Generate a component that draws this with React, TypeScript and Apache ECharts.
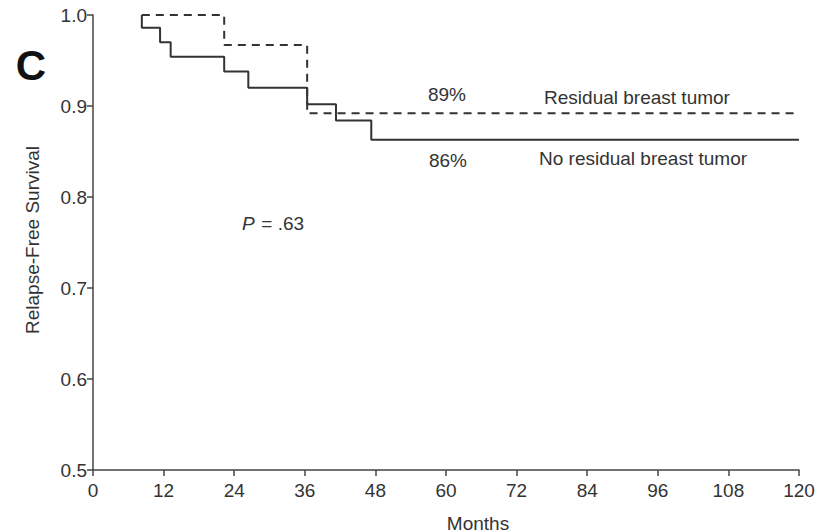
import React, { useEffect, useRef } from "react";
import * as echarts from "echarts";

const xTicks = [0, 12, 24, 36, 48, 60, 72, 84, 96, 108, 120];
const yTicks = [0.5, 0.6, 0.7, 0.8, 0.9, 1.0];

// No residual breast tumor (solid)
const noResidualMonths = [8.3, 8.3, 11.4, 13.2, 22.3, 26.4, 36.4, 41.3, 47.3, 120];
const noResidualSurvival = [1.0, 0.986, 0.970, 0.954, 0.938, 0.920, 0.902, 0.884, 0.863, 0.863];

// Residual breast tumor (dashed)
const residualMonths = [8.3, 22.3, 36.4, 120];
const residualSurvival = [1.0, 0.967, 0.892, 0.892];

const labels = {
  residualPct: "89%",
  noResidualPct: "86%",
  residual: "Residual breast tumor",
  noResidual: "No residual breast tumor",
  pValue: ".63",
  panel: "C",
  xName: "Months",
  yName: "Relapse-Free Survival",
};

const FONT = "'Liberation Sans', Arial, Helvetica, sans-serif";
const INK = "#333";

export default function App() {
  const ref = useRef<HTMLDivElement>(null);
  useEffect(() => {
    if (!ref.current) return;
    const chart = echarts.init(ref.current, null, { renderer: "svg" });
    const zip = (xs: number[], ys: number[]) => xs.map((x, i) => [x, ys[i]]);
    chart.setOption({
      animation: false,
      backgroundColor: "#fff",
      grid: { left: 93, right: 20, top: 15, bottom: 62, containLabel: false },
      xAxis: {
        type: "value",
        min: xTicks[0],
        max: xTicks[xTicks.length - 1],
        interval: 12,
        axisLine: { show: true, lineStyle: { color: "#444", width: 1.5 } },
        axisTick: { show: true, length: 6, lineStyle: { color: "#444", width: 1.5 } },
        axisLabel: { color: INK, fontSize: 19, fontFamily: FONT, margin: 11 },
        splitLine: { show: false },
      },
      yAxis: {
        type: "value",
        min: yTicks[0],
        max: yTicks[yTicks.length - 1],
        interval: 0.1,
        axisLine: { show: true, lineStyle: { color: "#444", width: 1.5 } },
        axisTick: { show: true, length: 6, lineStyle: { color: "#444", width: 1.5 } },
        axisLabel: {
          color: INK,
          fontSize: 19,
          fontFamily: FONT,
          margin: 6,
          formatter: (v: number) => v.toFixed(1),
        },
        splitLine: { show: false },
      },
      series: [
        {
          name: labels.noResidual,
          type: "line",
          step: "end",
          data: zip(noResidualMonths, noResidualSurvival),
          showSymbol: false,
          lineStyle: { color: INK, width: 2, type: "solid" },
        },
        {
          name: labels.residual,
          type: "line",
          step: "end",
          data: zip(residualMonths, residualSurvival),
          showSymbol: false,
          lineStyle: { color: INK, width: 2, type: [8, 6] },
        },
      ],
      graphic: [
        {
          type: "text",
          x: 31,
          y: 65,
          style: {
            text: labels.panel,
            font: `bold 42px ${FONT}`,
            fill: "#111",
            textAlign: "center",
            textVerticalAlign: "middle",
          },
        },
        {
          type: "text",
          x: 32,
          y: 240,
          rotation: Math.PI / 2,
          style: {
            text: labels.yName,
            font: `19px ${FONT}`,
            fill: INK,
            textAlign: "center",
            textVerticalAlign: "middle",
          },
        },
        {
          type: "text",
          x: 478,
          y: 523,
          style: {
            text: labels.xName,
            font: `19px ${FONT}`,
            fill: INK,
            textAlign: "center",
            textVerticalAlign: "middle",
          },
        },
        {
          type: "text",
          x: 447,
          y: 94,
          style: {
            text: labels.residualPct,
            font: `19px ${FONT}`,
            fill: INK,
            textAlign: "center",
            textVerticalAlign: "middle",
          },
        },
        {
          type: "text",
          x: 448,
          y: 160,
          style: {
            text: labels.noResidualPct,
            font: `19px ${FONT}`,
            fill: INK,
            textAlign: "center",
            textVerticalAlign: "middle",
          },
        },
        {
          type: "text",
          x: 637,
          y: 97,
          style: {
            text: labels.residual,
            font: `19px ${FONT}`,
            fill: INK,
            textAlign: "center",
            textVerticalAlign: "middle",
          },
        },
        {
          type: "text",
          x: 643,
          y: 158,
          style: {
            text: labels.noResidual,
            font: `19px ${FONT}`,
            fill: INK,
            textAlign: "center",
            textVerticalAlign: "middle",
          },
        },
        {
          type: "text",
          x: 242,
          y: 223,
          style: {
            text: "P",
            font: `italic 19px ${FONT}`,
            fill: INK,
            textAlign: "left",
            textVerticalAlign: "middle",
          },
        },
        {
          type: "text",
          x: 256,
          y: 223,
          style: {
            text: " = " + labels.pValue,
            font: `19px ${FONT}`,
            fill: INK,
            textAlign: "left",
            textVerticalAlign: "middle",
          },
        },
      ],
    });
    return () => chart.dispose();
  }, []);
  return <div ref={ref} style={{ width: 819, height: 532, position: "absolute", left: 0, top: 0 }} />;
}
